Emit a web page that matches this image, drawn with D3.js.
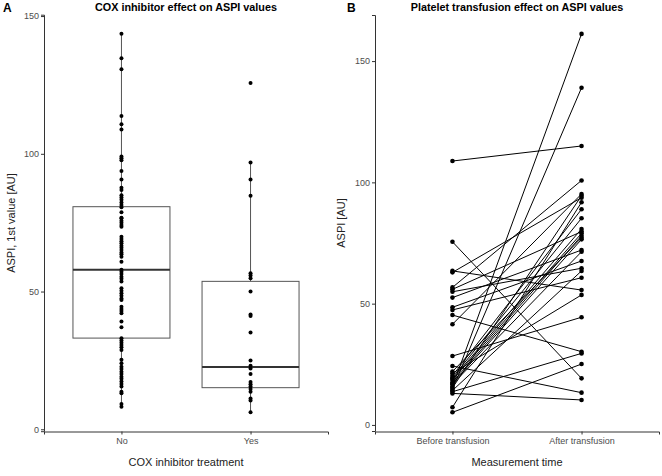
<!DOCTYPE html>
<html><head><meta charset="utf-8">
<script src="https://cdn.jsdelivr.net/npm/d3@7"></script>
<style>body{margin:0;background:#fff}svg{display:block;font-family:"Liberation Sans",Arial,sans-serif}</style>
</head><body><svg id="c" width="662" height="476"></svg>
<script>
// ---- Panel A data ----
const groupsA = ["No", "Yes"];
const valuesNo = [143.6,134.7,130.7,113.7,110.7,108.8,99.0,98.4,97.7,93.8,90.7,87.7,86.9,85.0,84.1,83.3,82.3,81.4,80.6,78.8,76.8,
  76.6,75.7,75.0,74.2,73.5,69.9,69.1,68.3,67.5,66.6,65.9,65.1,64.2,63.5,62.6,60.8,57.9,57.2,56.4,55.4,54.6,53.6,
  51.2,50.3,49.4,48.5,47.5,46.9,44.5,43.7,42.9,42.1,39.1,37.0,33.0,32.2,31.4,30.6,29.8,28.8,25.2,24.0,22.7,21.9,
  20.9,20.1,19.1,18.3,17.3,16.4,15.5,13.6,13.1,9.2,8.2];
const valuesYes = [125.7,96.8,90.7,84.8,56.6,55.8,54.8,50.0,41.7,41.1,35.1,25.0,23.1,22.1,20.1,17.2,16.3,15.5,14.6,13.6,11.2,10.4,6.2];
// box summaries: [whiskerLow, q1, median, q3, whiskerHigh]
const boxNo  = [8.2, 33.1, 57.9, 80.8, 143.6];
const boxYes = [6.2, 15.1, 22.6, 53.7, 96.8];
const ticksA = [0, 50, 100, 150];

// ---- Panel B data ----
const timesB = ["Before transfusion", "After transfusion"];
const beforeB = [108.8,75.5,63.5,62.9,56.7,55.9,54.9,52.5,48.5,47.4,45.3,41.5,28.4,24.3,22.0,21.3,20.3,19.5,19.0,18.5,17.6,17.0,16.8,15.8,15.3,14.8,14.2,13.7,13.0,7.3,5.2];
const afterB  = [115.0,19.2,55.6,93.7,100.8,79.7,64.6,72.1,67.6,60.7,30.2,95.2,44.4,13.3,77.2,53.6,88.9,85.2,80.8,79.0,78.0,76.5,71.4,161.2,94.5,139.0,63.5,29.5,10.3,91.8,25.1];
const ticksB = [0, 50, 100, 150];

const svg = d3.select("#c");
const axisCol = "#333", tickTxt = "#4d4d4d";

function styleAxis(g){
  g.selectAll("path").attr("stroke", axisCol).attr("stroke-width", 1);
  g.selectAll("line").attr("stroke", axisCol).attr("stroke-width", 1);
  g.selectAll("text").attr("fill", tickTxt).style("font-size", "9px").style("font-family", "Liberation Sans, Arial, sans-serif");
}

// ================= Panel A =================
const xA = d3.scalePoint().domain(groupsA).range([44, 328]).padding(0.6);
const yA = d3.scaleLinear().domain([-0.7, 150.5]).range([431.2, 14.7]);
const bw = 97;

const gA = svg.append("g");
const boxes = [boxNo, boxYes];
groupsA.forEach((g, i) => {
  const b = boxes[i], cx = xA(g);
  gA.append("line").attr("x1", cx).attr("x2", cx).attr("y1", yA(b[0])).attr("y2", yA(b[1])).attr("stroke", "#555").attr("stroke-width", 1);
  gA.append("line").attr("x1", cx).attr("x2", cx).attr("y1", yA(b[3])).attr("y2", yA(b[4])).attr("stroke", "#555").attr("stroke-width", 1);
  gA.append("rect").attr("x", cx - bw/2).attr("width", bw).attr("y", yA(b[3])).attr("height", yA(b[1]) - yA(b[3]))
    .attr("fill", "#fff").attr("stroke", "#555").attr("stroke-width", 1);
  gA.append("line").attr("x1", cx - bw/2).attr("x2", cx + bw/2).attr("y1", yA(b[2])).attr("y2", yA(b[2])).attr("stroke", "#333").attr("stroke-width", 2);
});
[valuesNo, valuesYes].forEach((vals, i) => {
  gA.selectAll(null).data(vals).enter().append("circle")
    .attr("cx", xA(groupsA[i])).attr("cy", d => yA(d)).attr("r", 2).attr("fill", "#000");
});
svg.append("g").attr("transform", "translate(44,0)")
  .call(d3.axisLeft(yA).tickValues(ticksA).tickSizeOuter(0).tickSize(3).tickPadding(2)).call(styleAxis);
svg.append("g").attr("transform", "translate(0,431.5)")
  .call(d3.axisBottom(xA).tickSizeOuter(0).tickSize(3).tickPadding(3)).call(styleAxis);

svg.append("text").attr("x", 186).attr("y", 11).attr("text-anchor", "middle")
  .style("font-size", "10.8px").style("font-weight", "bold").text("COX inhibitor effect on ASPI values");
svg.append("text").attr("x", 3).attr("y", 12).style("font-size", "12px").style("font-weight", "bold").text("A");
svg.append("text").attr("x", 186).attr("y", 466).attr("text-anchor", "middle").style("font-size", "11px").attr("fill", "#222").text("COX inhibitor treatment");
svg.append("text").attr("transform", "translate(15,223) rotate(-90)").attr("text-anchor", "middle").style("font-size", "11px").attr("fill", "#222").text("ASPI, 1st value [AU]");

// ================= Panel B =================
const xB = d3.scalePoint().domain(timesB).range([375, 659]).padding(0.6);
const yB = d3.scaleLinear().domain([-2.5, 169]).range([431, 15]);
const gB = svg.append("g");
gB.selectAll(null).data(beforeB.map((b, i) => [b, afterB[i]])).enter().append("line")
  .attr("x1", xB(timesB[0])).attr("x2", xB(timesB[1]))
  .attr("y1", d => yB(d[0])).attr("y2", d => yB(d[1]))
  .attr("stroke", "#000").attr("stroke-width", 1);
gB.selectAll(null).data(beforeB).enter().append("circle").attr("cx", xB(timesB[0])).attr("cy", d => yB(d)).attr("r", 2.3).attr("fill", "#000");
gB.selectAll(null).data(afterB).enter().append("circle").attr("cx", xB(timesB[1])).attr("cy", d => yB(d)).attr("r", 2.3).attr("fill", "#000");

svg.append("g").attr("transform", "translate(375,0)")
  .call(d3.axisLeft(yB).tickValues(ticksB).tickSizeOuter(0).tickSize(3).tickPadding(2)).call(styleAxis);
svg.append("g").attr("transform", "translate(0,431.5)")
  .call(d3.axisBottom(xB).tickSizeOuter(0).tickSize(3).tickPadding(3)).call(styleAxis);

svg.append("text").attr("x", 517).attr("y", 11).attr("text-anchor", "middle")
  .style("font-size", "10.8px").style("font-weight", "bold").text("Platelet transfusion effect on ASPI values");
svg.append("text").attr("x", 347).attr("y", 12).style("font-size", "12px").style("font-weight", "bold").text("B");
svg.append("text").attr("x", 517).attr("y", 466).attr("text-anchor", "middle").style("font-size", "11px").attr("fill", "#222").text("Measurement time");
svg.append("text").attr("transform", "translate(345,223) rotate(-90)").attr("text-anchor", "middle").style("font-size", "11px").attr("fill", "#222").text("ASPI [AU]");
</script></body></html>
